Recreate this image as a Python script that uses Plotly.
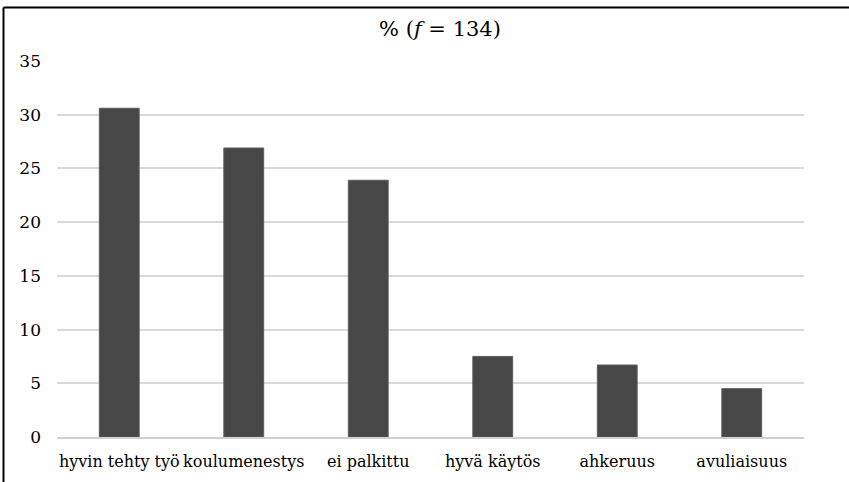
import plotly.graph_objects as go

# Share of answers per reward reason (%), total f = 134
categories = ["hyvin tehty työ", "koulumenestys", "ei palkittu", "hyvä käytös", "ahkeruus", "avuliaisuus"]
percentages = [30.6, 26.9, 23.9, 7.5, 6.7, 4.5]
y_ticks = [0, 5, 10, 15, 20, 25, 30, 35]

W, H = 849, 482
M_L, M_R, M_T, M_B = 57, 45, 61, 45
plot_w = W - M_L - M_R
plot_h = H - M_T - M_B

FONT = "DejaVu Serif, Liberation Serif, Times New Roman, serif"

fig = go.Figure(
    go.Bar(
        x=categories,
        y=percentages,
        marker=dict(color="#474747", line=dict(color="#5c5c5c", width=1)),
        hoverinfo="x+y",
    )
)

# Frame lines on the left and top edges of the canvas
left_x = (3.5 - M_L) / plot_w
top_y = (H - M_B - 7.5) / plot_h
fig.add_shape(type="line", xref="paper", yref="paper",
              x0=left_x, x1=left_x, y0=-1, y1=top_y,
              line=dict(color="black", width=2))
fig.add_shape(type="line", xref="paper", yref="paper",
              x0=left_x, x1=2, y0=top_y, y1=top_y,
              line=dict(color="black", width=2))

fig.update_layout(
    width=W, height=H,
    margin=dict(l=M_L, r=M_R, t=M_T, b=M_B, pad=0, autoexpand=False),
    paper_bgcolor="white",
    plot_bgcolor="white",
    bargap=0.68,
    showlegend=False,
    font=dict(family=FONT, color="black", size=17),
    title=dict(
        text="% (<i>f</i> = 134)",
        x=440 / W, xref="container", xanchor="center",
        y=1 - 29 / H, yref="container", yanchor="middle",
        font=dict(family=FONT, size=21, color="black"),
    ),
    xaxis=dict(
        automargin=False,
        tickangle=0,
        showgrid=False,
        showline=True,
        linecolor="#d0d0d0",
        linewidth=2,
        ticks="",
        ticklabelstandoff=9,
        tickfont=dict(family=FONT, size=16, color="black"),
    ),
    yaxis=dict(
        automargin=False,
        range=[0, 35],
        tickvals=y_ticks,
        showgrid=True,
        gridcolor="#d9d9d9",
        gridwidth=2,
        zeroline=False,
        showline=False,
        ticks="",
        ticklabelstandoff=15,
        tickfont=dict(family=FONT, size=17, color="black"),
    ),
)

fig.write_html("out.html")
